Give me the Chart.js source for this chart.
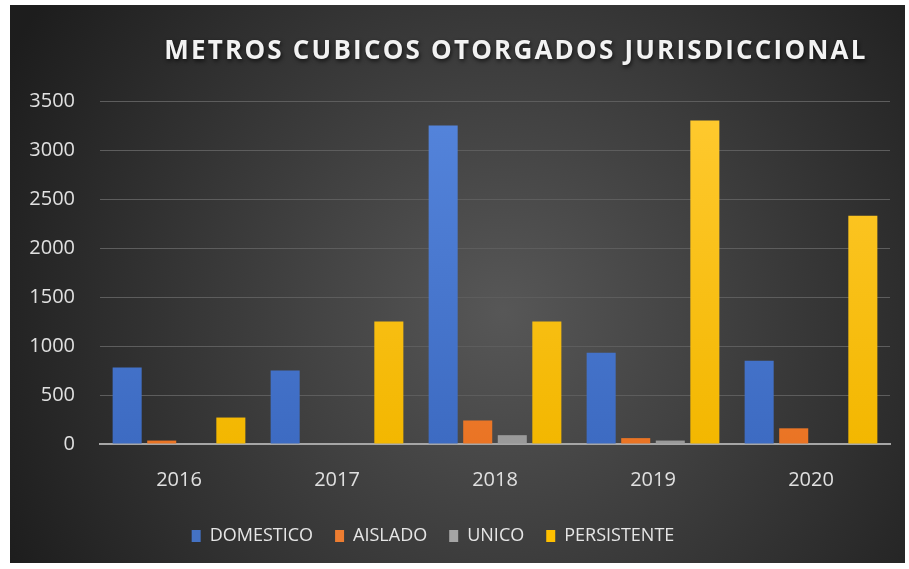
<!DOCTYPE html>
<html>
<head>
<meta charset="utf-8">
<script src="https://cdn.jsdelivr.net/npm/chart.js@4"></script>
<style>
  html, body { margin: 0; padding: 0; background: #ffffff; }
  #wrap { position: absolute; left: 10px; top: 5px; width: 895px; height: 558px; }
</style>
</head>
<body>
<div id="wrap"><canvas id="chart-metros"></canvas></div>
<script>
const years = ['2016', '2017', '2018', '2019', '2020'];
const domestico = [780, 750, 3250, 930, 850];
const aislado = [35, 0, 240, 60, 160];
const unico = [0, 0, 90, 35, 0];
const persistente = [270, 1250, 1250, 3300, 2330];
const yTicks = [0, 500, 1000, 1500, 2000, 2500, 3000, 3500];
const chartTitle = 'METROS CUBICOS OTORGADOS JURISDICCIONAL';

// vertical gradient per series, lighter at the top
function barFill(top, bottom) {
    return function(context) {
        const area = context.chart.chartArea;
        if (!area) return bottom;
        const g = context.chart.ctx.createLinearGradient(0, area.top, 0, area.bottom);
        g.addColorStop(0, top);
        g.addColorStop(1, bottom);
        return g;
    };
}

const backdrop = {
    id: 'backdrop',
    beforeDraw(chart) {
        const ctx = chart.ctx;
        const w = chart.width, h = chart.height;
        const g = ctx.createRadialGradient(w * 0.55, h * 0.55, 0, w * 0.55, h * 0.55, w * 0.62);
        g.addColorStop(0, '#575757');
        g.addColorStop(1, '#1d1d1d');
        ctx.save();
        ctx.fillStyle = g;
        ctx.fillRect(0, 0, w, h);
        ctx.restore();
    }
};

// legend sits a little left of centre in the original
const legendShift = {
    id: 'legendShift',
    afterLayout(chart) {
        chart.legend.left -= 22;
        chart.legend.right -= 22;
    }
};

const spacedTitle = {
    id: 'spacedTitle',
    afterDraw(chart) {
        const ctx = chart.ctx;
        ctx.save();
        ctx.font = 'bold 26px "Open Sans"';
        ctx.letterSpacing = '2.2px';
        ctx.fillStyle = '#f2f2f2';
        ctx.textAlign = 'center';
        ctx.textBaseline = 'middle';
        ctx.shadowColor = 'rgba(0,0,0,0.7)';
        ctx.shadowBlur = 4;
        ctx.shadowOffsetX = 1;
        ctx.shadowOffsetY = 2;
        ctx.fillText(chartTitle, 506, 47);
        ctx.restore();
    }
};

const ctx = document.getElementById('chart-metros').getContext('2d');
const chartMetros = new Chart(ctx, {
    type: 'bar',
    data: {
        labels: years,
        datasets: [
            { label: 'DOMESTICO', data: domestico, backgroundColor: barFill('#5585dc', '#3d6bc2'), legendColor: '#4472c4' },
            { label: 'AISLADO', data: aislado, backgroundColor: barFill('#f6914a', '#ea7424'), legendColor: '#ed7d31' },
            { label: 'UNICO', data: unico, backgroundColor: barFill('#b5b5b5', '#9a9a9a'), legendColor: '#a5a5a5' },
            { label: 'PERSISTENTE', data: persistente, backgroundColor: barFill('#ffca30', '#f3b700'), legendColor: '#ffc000' }
        ]
    },
    options: {
        responsive: true,
        maintainAspectRatio: false,
        animation: false,
        datasets: {
            bar: { categoryPercentage: 0.875, barPercentage: 0.84 }
        },
        layout: {
            padding: { top: 96, right: 15, left: 10, bottom: 8 }
        },
        plugins: {
            title: { display: false },
            tooltip: { enabled: false },
            legend: {
                position: 'bottom',
                labels: {
                    color: '#e6e6e6',
                    font: { family: '"Open Sans"', size: 18 },
                    boxWidth: 9,
                    boxHeight: 12,
                    padding: 22,
                    generateLabels(chart) {
                        return chart.data.datasets.map((ds, i) => ({
                            text: ds.label,
                            fillStyle: ds.legendColor,
                            strokeStyle: ds.legendColor,
                            lineWidth: 0,
                            fontColor: '#e6e6e6',
                            datasetIndex: i,
                            hidden: false
                        }));
                    }
                }
            }
        },
        scales: {
            x: {
                afterFit(scale) { scale.height = 61; },
                grid: { display: false, drawTicks: false },
                border: { display: true, color: '#a6a6a6', width: 2 },
                ticks: {
                    color: '#e0e0e0',
                    font: { family: '"Open Sans"', size: 20 },
                    padding: 24
                }
            },
            y: {
                min: 0,
                max: 3500,
                afterFit(scale) { scale.width = 80; },
                afterBuildTicks(scale) { scale.ticks = yTicks.map(v => ({ value: v })); },
                grid: {
                    color: c => c.tick && c.tick.value === 0 ? 'rgba(0,0,0,0)' : '#5d5d5d',
                    lineWidth: 1,
                    drawTicks: false
                },
                border: { display: false },
                ticks: {
                    color: '#e0e0e0',
                    font: { family: '"Open Sans"', size: 20 },
                    padding: 25,
                    callback: v => String(v)
                }
            }
        }
    },
    plugins: [backdrop, legendShift, spacedTitle]
});
</script>
</body>
</html>
